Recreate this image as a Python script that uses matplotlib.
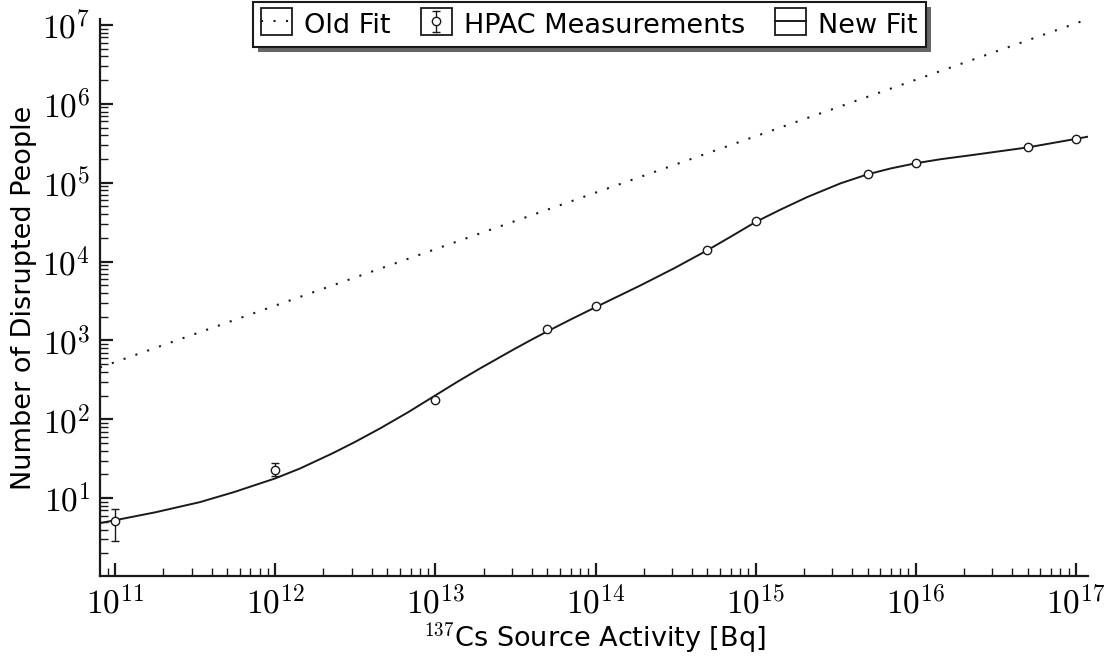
import matplotlib
matplotlib.use('Agg')
import matplotlib.pyplot as plt
import numpy as np
from matplotlib.legend_handler import HandlerLine2D, HandlerBase
from matplotlib.lines import Line2D
from matplotlib.patches import Rectangle
from matplotlib.transforms import IdentityTransform
from matplotlib.ticker import LogLocator, FuncFormatter

# HPAC measurements
activity = [1e11, 1e12, 1e13, 5e13, 1e14, 5e14, 1e15, 5e15, 1e16, 5e16, 1e17]
disrupted = [5.1, 23, 178, 1380, 2700, 14200, 33000, 129000, 180000, 280000, 361000]
err_low = [2.2, 4.0, 0, 0, 0, 0, 0, 0, 0, 0, 0]
err_high = [2.1, 4.7, 0, 0, 0, 0, 0, 0, 0, 0, 0]

# old fit (straight power law on log-log), read at the axis ends
old_fit_x = [8.05e10, 1.19e17]
old_fit_y = [455, 1.19e7]

# new fit
new_fit_x = [8.05e10, 1.0e11, 1.78e11, 3.39e11, 5.50e11, 1.0e12, 1.43e12, 2.29e12,
             3.16e12, 4.53e12, 6.76e12, 1.0e13, 1.38e13, 1.91e13, 3.09e13, 3.98e13,
             4.99e13, 7.08e13, 1.0e14, 1.91e14, 3.09e14, 4.99e14, 7.08e14, 1.0e15,
             1.43e15, 2.10e15, 3.39e15, 4.99e15, 6.97e15, 1.0e16, 1.43e16, 2.29e16,
             5.01e16, 1.0e17, 1.19e17]
new_fit_y = [4.83, 5.25, 6.61, 8.91, 11.9, 17.8, 23.8, 37.2,
             51.8, 76.9, 123, 201, 301, 444, 771, 1021,
             1300, 1866, 2636, 4990, 8200, 13900, 21000, 31800,
             45600, 65800, 98200, 127600, 151700, 176600, 198600, 225400,
             280500, 359700, 383700]

x_ticks = [1e11, 1e12, 1e13, 1e14, 1e15, 1e16, 1e17]
y_ticks = [1e1, 1e2, 1e3, 1e4, 1e5, 1e6, 1e7]

plt.rcParams['mathtext.fontset'] = 'cm'
plt.rcParams['font.family'] = ['DejaVu Sans']
ink = '#1a1a1a'


class BoxedLine(HandlerLine2D):
    def create_artists(self, legend, orig, xd, yd, w, h, fs, trans):
        arts = super().create_artists(legend, orig, xd, yd, w, h, fs, trans)
        yc = (h - yd) / 2
        box = Rectangle((-xd, yc - h / 2), w, h, fill=False, lw=1.3, ec=ink, transform=trans)
        return arts + [box]


class BoxedErr(HandlerBase):
    # little box with a circle and a capped error bar, like the reference legend
    def create_artists(self, legend, orig, xd, yd, w, h, fs, trans):
        yc = (h - yd) / 2
        xc = w / 2 - xd
        r = 0.4 * fs
        bar = Line2D([xc, xc], [yc - r, yc + r], color=ink, lw=1.0, transform=trans)
        caps = Line2D([xc, xc], [yc - r, yc + r], ls='none', marker='_', ms=6, mew=1.0,
                      color=ink, transform=trans)
        mk = Line2D([xc], [yc], ls='none', marker='o', ms=6, mfc='white', mec=ink, mew=1.0,
                    transform=trans)
        box = Rectangle((-xd, yc - h / 2), w, h, fill=False, lw=1.3, ec=ink, transform=trans)
        return [bar, caps, mk, box]


fig = plt.figure(figsize=(11.04, 6.57), dpi=100)
ax = fig.add_axes([0.0906, 0.1233, 0.8949, 0.8477])

l_old, = ax.plot(old_fit_x, old_fit_y, color=ink, lw=1.5, linestyle=(0, (1, 5.0)), label='Old Fit')
eb = ax.errorbar(activity, disrupted, yerr=[err_low, err_high], fmt='o', ms=6, mfc='white',
                 mec=ink, mew=1.0, ecolor=ink, elinewidth=1.0, capsize=3, capthick=1.0,
                 label='HPAC Measurements')
eb[0].set_zorder(5)
l_new, = ax.plot(new_fit_x, new_fit_y, color=ink, lw=1.4, label='New Fit')

ax.set_xscale('log')
ax.set_yscale('log')
ax.set_xlim(8.05e10, 1.19e17)
ax.set_ylim(1.03, 1.19e7)

for s in ['top', 'right']:
    ax.spines[s].set_visible(False)
for s in ['left', 'bottom']:
    ax.spines[s].set_linewidth(1.6)
    ax.spines[s].set_color(ink)

fmt = FuncFormatter(lambda v, p: r'$10^{%d}$' % round(np.log10(v)))
ax.set_xticks(x_ticks)
ax.set_yticks(y_ticks)
ax.xaxis.set_minor_locator(LogLocator(base=10, subs=np.arange(2, 10), numticks=30))
ax.yaxis.set_minor_locator(LogLocator(base=10, subs=np.arange(2, 10), numticks=30))
ax.xaxis.set_major_formatter(fmt)
ax.yaxis.set_major_formatter(fmt)
ax.tick_params(which='both', direction='in', top=False, right=False, color=ink)
ax.tick_params(which='major', length=9.5, width=1.6, labelsize=24, pad=7)
ax.tick_params(which='minor', length=6, width=1.0)

ax.set_xlabel(r'$^{137}$Cs Source Activity [Bq]', fontsize=19.5, labelpad=0)
ax.set_ylabel('Number of Disrupted People', fontsize=19.5, labelpad=4)

leg = fig.legend(handles=[l_old, eb, l_new], loc='upper center', bbox_to_anchor=(0.534, 0.997),
                 ncol=3, frameon=True, fancybox=False, framealpha=1,
                 fontsize=19.5, handlelength=1.15, handleheight=1.15, handletextpad=0.45,
                 columnspacing=1.1, borderpad=0.3, borderaxespad=0.0,
                 handler_map={l_old: BoxedLine(), l_new: BoxedLine(), type(eb): BoxedErr()})
leg.get_frame().set_edgecolor(ink)
leg.get_frame().set_linewidth(1.5)
leg.set_zorder(10)

# drop shadow below the legend box
fig.canvas.draw()
bb = leg.get_window_extent()
fig.patches.append(Rectangle((bb.x0 + 5, bb.y0 - 5), bb.width, bb.height, fc='0.4', ec='none',
                             transform=IdentityTransform(), zorder=9, figure=fig))

plt.savefig('out.png', dpi=100)
